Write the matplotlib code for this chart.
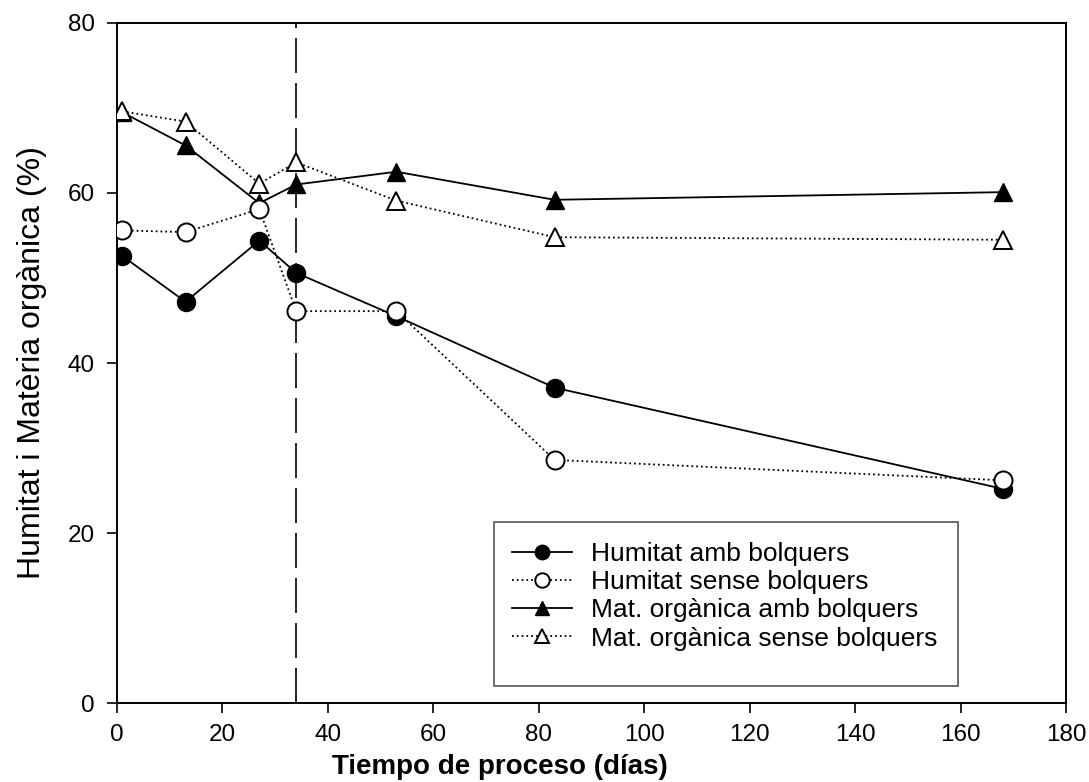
import matplotlib
matplotlib.use("Agg")
import matplotlib.pyplot as plt
from matplotlib.patches import Rectangle
from matplotlib import font_manager

names = {f.name for f in font_manager.fontManager.ttflist}
base_font = "Liberation Sans" if "Liberation Sans" in names else "DejaVu Sans"
plt.rcParams["font.family"] = [base_font, "DejaVu Sans"]

# Sampling days
dias = [1, 13, 27, 34, 53, 83, 168]

# Moisture and organic matter (%)
humitat_amb = [52.6, 47.2, 54.4, 50.6, 45.5, 37.1, 25.2]
humitat_sense = [55.6, 55.4, 58.1, 46.1, 46.1, 28.6, 26.2]
mo_amb = [69.5, 65.6, 58.8, 61.0, 62.5, 59.2, 60.1]
mo_sense = [69.6, 68.4, 61.1, 63.6, 59.1, 54.8, 54.5]

labels = ["Humitat amb bolquers", "Humitat sense bolquers",
          "Mat. orgànica amb bolquers", "Mat. orgànica sense bolquers"]

volteo_dia = 34
x_ticks = [0, 20, 40, 60, 80, 100, 120, 140, 160, 180]
y_ticks = [0, 20, 40, 60, 80]

fig = plt.figure(figsize=(10.89, 7.82), dpi=100)
ax = fig.add_axes([0.1074, 0.101, 0.8715, 0.8696])

lw = 1.3
ax.plot(dias, humitat_amb, "-", color="black", lw=lw, marker="o", ms=13,
        mfc="black", mec="black", label=labels[0], zorder=4)
ax.plot(dias, humitat_sense, ":", color="black", lw=lw, marker="o", ms=13,
        mfc="white", mec="black", mew=1.4, label=labels[1], zorder=5)
ax.plot(dias, mo_amb, "-", color="black", lw=lw, marker="^", ms=13,
        mfc="black", mec="black", label=labels[2], zorder=4)
ax.plot(dias, mo_sense, ":", color="black", lw=lw, marker="^", ms=13,
        mfc="white", mec="black", mew=1.4, label=labels[3], zorder=5)

# Turning day marker
ax.axvline(volteo_dia, color="black", lw=1.2, ls=(0, (21, 6)), zorder=3)

ax.set_xlim(0, 180)
ax.set_ylim(0, 80)
ax.set_xticks(x_ticks)
ax.set_yticks(y_ticks)
ax.tick_params(direction="out", length=7, width=1.2, labelsize=17.5)
ax.tick_params(axis="x", pad=8)
ax.tick_params(axis="y", pad=9)
for sp in ax.spines.values():
    sp.set_linewidth(1.4)

ax.set_xlabel("Tiempo de proceso (días)", fontsize=20, fontweight="bold")
ax.xaxis.label.set_verticalalignment("bottom")
ax.xaxis.set_label_coords(0.459, 1.5 / 782, transform=fig.transFigure)
ax.set_ylabel("Humitat i Matèria orgànica (%)", fontsize=23, labelpad=15)

# Legend box and entries
ax.add_patch(Rectangle((0.397, 0.025), 0.489, 0.241, transform=ax.transAxes,
                       fill=False, edgecolor="#555555", lw=1.2, zorder=6))
leg = ax.legend(loc="upper left", bbox_to_anchor=(0.416, 0.237), fontsize=19,
                frameon=False, handlelength=2.3, borderpad=0, borderaxespad=0,
                labelspacing=0.16, handletextpad=0.7, markerscale=0.8)

fig.savefig("out.png", dpi=100, facecolor="white")
